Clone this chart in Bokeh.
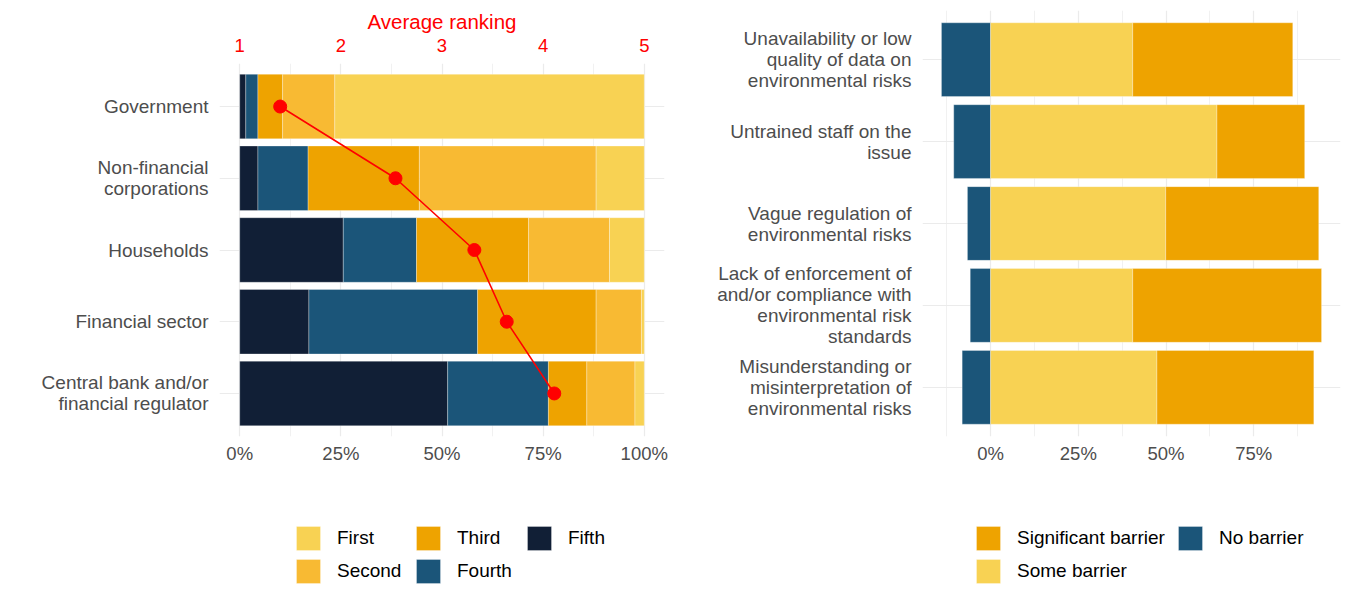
from bokeh.plotting import figure
from bokeh.models import (FactorRange, Range1d, LinearAxis, FixedTicker, Legend, LegendItem,
                          PrintfTickFormatter, ColumnDataSource, Spacer)
from bokeh.layouts import row, column
from bokeh.embed import file_html
from bokeh.resources import INLINE

# ---------------- data ----------------
sectors = ["Government", "Non-financial\ncorporations", "Households", "Financial sector",
           "Central bank and/or\nfinancial regulator"]
first = [76.5, 11.9, 8.6, 0.7, 2.3]
second = [12.9, 43.7, 20.0, 11.2, 11.9]
third = [6.1, 27.5, 27.7, 29.3, 9.5]
fourth = [3.0, 12.4, 18.1, 41.7, 24.9]
fifth = [1.5, 4.5, 25.6, 17.1, 51.4]
avg_rank = [1.40, 2.54, 3.32, 3.64, 4.11]
rank_labels = ["First", "Second", "Third", "Fourth", "Fifth"]

barriers = ["Unavailability or low\nquality of data on\nenvironmental risks",
            "Untrained staff on the\nissue",
            "Vague regulation of\nenvironmental risks",
            "Lack of enforcement of\nand/or compliance with\nenvironmental risk\nstandards",
            "Misunderstanding or\nmisinterpretation of\nenvironmental risks"]
no_barrier = [14.0, 10.5, 6.6, 5.8, 8.1]
some_barrier = [40.5, 64.5, 49.9, 40.5, 47.4]
significant_barrier = [45.6, 25.0, 43.6, 53.8, 44.7]
barrier_labels = ["Significant barrier", "Some barrier", "No barrier"]

pct_ticks_left = [0, 25, 50, 75, 100]
pct_minor_left = [12.5, 37.5, 62.5, 87.5]
pct_ticks_right = [0, 25, 50, 75]
pct_minor_right = [-12.5, 12.5, 37.5, 62.5, 87.5]
rank_ticks = [1, 2, 3, 4, 5]

# ---------------- style ----------------
C_FIRST = "#F8D253"
C_SECOND = "#F8BA33"
C_THIRD = "#EEA300"
C_FOURTH = "#1B5579"
C_FIFTH = "#111F36"
GRID = "#EBEBEB"
FONT = "Liberation Sans"
TICK = "#4D4D4D"
BAR_LINE = dict(line_color="white", line_width=0.6, line_alpha=0.5)
NAN = float("nan")


def style(p):
    p.outline_line_color = None
    for ax in p.axis:
        ax.axis_line_color = None
        ax.major_tick_line_color = None
        ax.minor_tick_line_color = None
        ax.major_label_text_font = FONT
        ax.major_label_text_color = TICK
    p.xaxis.major_label_text_font_size = "18.5px"
    p.yaxis.major_label_text_font_size = "19px"
    p.yaxis.major_label_text_line_height = 1.0
    p.yaxis.major_label_standoff = 5
    p.xaxis.major_label_standoff = 0
    p.xgrid.grid_line_color = GRID
    p.xgrid.grid_line_width = 1.2
    p.xgrid.minor_grid_line_color = GRID
    p.xgrid.minor_grid_line_width = 0.7
    p.ygrid.grid_line_color = GRID
    p.ygrid.grid_line_width = 1.2
    p.background_fill_color = "white"
    p.border_fill_color = "white"


def make_legend(items, x, y):
    return Legend(items=items, location=(x, y), orientation="vertical",
                  glyph_width=30, glyph_height=30, label_standoff=14, spacing=3,
                  padding=0, margin=0, border_line_color=None, background_fill_alpha=0,
                  label_text_font=FONT, label_text_font_size="19px", label_text_color="black")


def legend_figure(width):
    f = figure(width=width, height=100, title=None, x_range=Range1d(0, 1), y_range=Range1d(0, 1),
               output_backend="svg", toolbar_location=None, min_border=0,
               min_border_left=0, min_border_right=0, min_border_top=0, min_border_bottom=0)
    f.axis.visible = False
    f.grid.visible = False
    f.outline_line_color = None
    return f


# ---------------- left panel ----------------
src1 = ColumnDataSource(dict(sector=sectors, first=first, second=second, third=third,
                             fourth=fourth, fifth=fifth, avg=avg_rank))

p1 = figure(width=680, height=494, title=None,
            y_range=FactorRange(factors=list(reversed(sectors)), range_padding=0.04,
                                range_padding_units="percent"),
            x_range=Range1d(-5, 105), output_backend="svg", toolbar_location=None,
            min_border_left=219, min_border_right=16, min_border_top=56, min_border_bottom=64)
p1.extra_x_ranges = {"rank": Range1d(0.8, 5.2)}

p1.hbar_stack(["fifth", "fourth", "third", "second", "first"], y="sector", height=0.9,
              color=[C_FIFTH, C_FOURTH, C_THIRD, C_SECOND, C_FIRST], source=src1, **BAR_LINE)
p1.line(x="avg", y="sector", source=src1, x_range_name="rank", line_color="#FF0000", line_width=1.6)
p1.scatter(x="avg", y="sector", source=src1, x_range_name="rank", size=13,
           fill_color="#FF0000", line_color="#FF0000")

p1.xaxis.ticker = FixedTicker(ticks=pct_ticks_left, minor_ticks=pct_minor_left)
p1.xaxis.formatter = PrintfTickFormatter(format="%d%%")

top_axis = LinearAxis(x_range_name="rank", ticker=FixedTicker(ticks=rank_ticks),
                      axis_label="Average ranking")
p1.add_layout(top_axis, "above")
style(p1)
top_axis.major_label_text_color = "#FF0000"
top_axis.major_label_text_font_size = "18.5px"
top_axis.major_label_standoff = 6
top_axis.axis_label_text_color = "#FF0000"
top_axis.axis_label_text_font = FONT
top_axis.axis_label_text_font_style = "normal"
top_axis.axis_label_text_font_size = "20.5px"
top_axis.axis_label_standoff = 3

# legend strip below the left panel (its frame is aligned with the panel's frame)
lf1 = legend_figure(680)
rank_colors = [C_FIRST, C_SECOND, C_THIRD, C_FOURTH, C_FIFTH]
key1 = [lf1.hbar(y=[NAN], right=[NAN], height=0.9, color=c, **BAR_LINE) for c in rank_colors]
items1 = [LegendItem(label=lab, renderers=[r]) for lab, r in zip(rank_labels, key1)]
for lg in (make_legend(items1[0:2], 74, 14), make_legend(items1[2:4], 194, 14),
           make_legend(items1[4:5], 305, 47)):
    lf1.add_layout(lg, "center")

# ---------------- right panel ----------------
src2 = ColumnDataSource(dict(barrier=barriers, some=some_barrier, significant=significant_barrier,
                             no_left=[-v for v in no_barrier], zero=[0] * len(no_barrier)))

p2 = figure(width=665, height=500, title=None,
            y_range=FactorRange(factors=list(reversed(barriers)), range_padding=0.04,
                                range_padding_units="percent"),
            x_range=Range1d(-19.4, 99.7), output_backend="svg", toolbar_location=None,
            min_border_left=242, min_border_right=5, min_border_top=10, min_border_bottom=64)

p2.hbar(y="barrier", left="no_left", right="zero", height=0.9, source=src2,
        color=C_FOURTH, **BAR_LINE)
p2.hbar_stack(["some", "significant"], y="barrier", height=0.9,
              color=[C_FIRST, C_THIRD], source=src2, **BAR_LINE)
p2.xaxis.ticker = FixedTicker(ticks=pct_ticks_right, minor_ticks=pct_minor_right)
p2.xaxis.formatter = PrintfTickFormatter(format="%d%%")
style(p2)

lf2 = legend_figure(665)
barrier_colors = [C_THIRD, C_FIRST, C_FOURTH]
key2 = [lf2.hbar(y=[NAN], right=[NAN], height=0.9, color=c, **BAR_LINE) for c in barrier_colors]
items2 = [LegendItem(label=lab, renderers=[r]) for lab, r in zip(barrier_labels, key2)]
for lg in (make_legend(items2[0:2], 51, 14), make_legend(items2[2:3], 253, 47)):
    lf2.add_layout(lg, "center")

left_col = column(Spacer(width=680, height=6), p1, lf1, spacing=0)
right_col = column(p2, lf2, spacing=0)
layout = row(left_col, right_col, spacing=0)
open("out.html", "w").write(file_html(layout, INLINE))
